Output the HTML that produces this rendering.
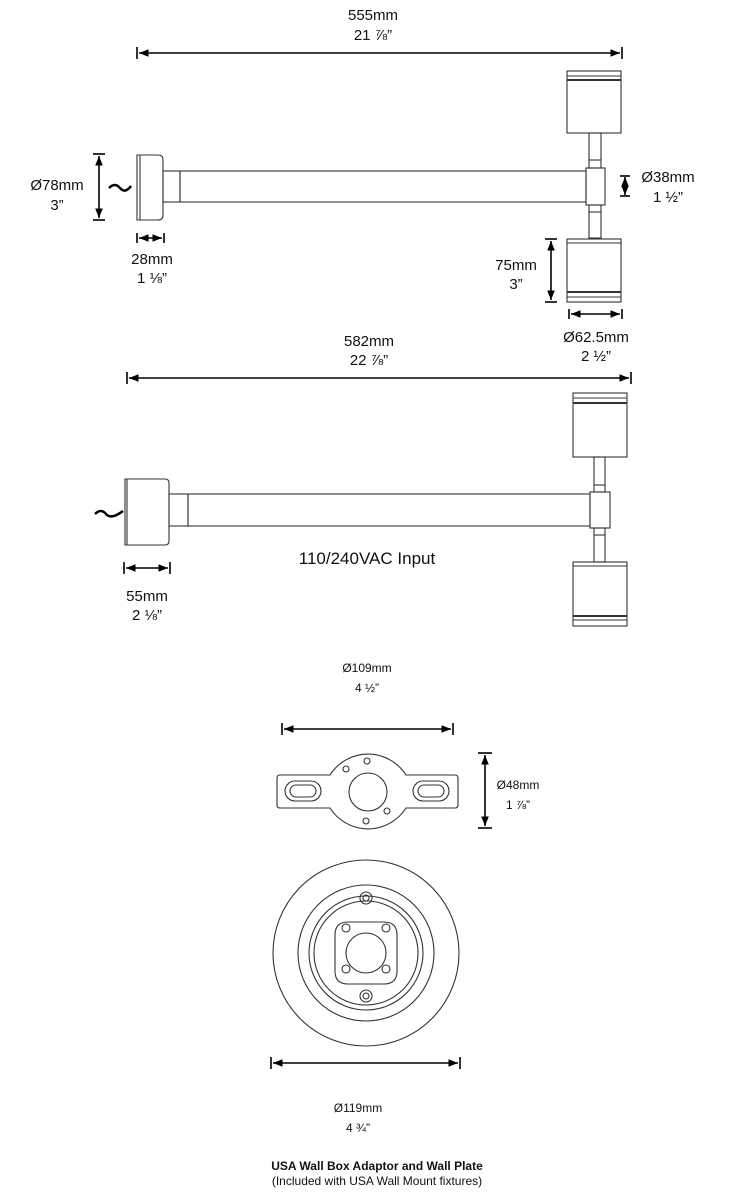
<!DOCTYPE html>
<html><head><meta charset="utf-8"><style>
html,body{margin:0;padding:0;background:#fff}
svg{display:block}
text{font-family:"Liberation Sans",Arial,sans-serif;fill:#111;text-anchor:middle}
</style></head><body>
<svg width="742" height="1198" viewBox="0 0 742 1198" xmlns="http://www.w3.org/2000/svg">
<defs>
<marker id="a" viewBox="0 0 10 10" refX="10" refY="5" markerWidth="6" markerHeight="6" orient="auto-start-reverse"><path d="M0,1 L10,5 L0,9 z" fill="#000"/></marker>
</defs>
<g fill="none" stroke="#333" stroke-width="1.1">
<path d="M137,155 H158 Q163,155 163,160 V215 Q163,220 158,220 H137 Z"/>
<line x1="140" y1="155" x2="140" y2="220"/>
<rect x="163" y="171" width="17" height="31"/>
<rect x="180" y="171" width="406" height="31"/>
<rect x="586" y="168" width="19" height="37"/>
<rect x="589" y="133" width="12" height="35"/>
<line x1="589" y1="160" x2="601" y2="160"/>
<rect x="589" y="205" width="12" height="33"/>
<line x1="589" y1="212" x2="601" y2="212"/>
<rect x="567" y="71" width="54" height="62"/>
<line x1="567" y1="76" x2="621" y2="76"/>
<line x1="567" y1="80" x2="621" y2="80" stroke-width="2"/>
<rect x="567" y="239" width="54" height="63"/>
<line x1="567" y1="243" x2="621" y2="243"/>
<line x1="567" y1="292" x2="621" y2="292" stroke-width="2"/>
<line x1="567" y1="297" x2="621" y2="297"/>
<path d="M125,479 H165 Q169,479 169,483 V541 Q169,545 165,545 H125 Z"/>
<line x1="127" y1="479" x2="127" y2="545"/>
<rect x="169" y="494" width="19" height="32"/>
<rect x="188" y="494" width="402" height="32"/>
<rect x="590" y="492" width="20" height="36"/>
<rect x="594" y="457" width="11" height="35"/>
<line x1="594" y1="485" x2="605" y2="485"/>
<rect x="594" y="528" width="11" height="34"/>
<line x1="594" y1="535" x2="605" y2="535"/>
<rect x="573" y="393" width="54" height="64"/>
<line x1="573" y1="398" x2="627" y2="398"/>
<line x1="573" y1="403" x2="627" y2="403" stroke-width="2"/>
<rect x="573" y="562" width="54" height="64"/>
<line x1="573" y1="566" x2="627" y2="566"/>
<line x1="573" y1="616" x2="627" y2="616" stroke-width="2"/>
<line x1="573" y1="620" x2="627" y2="620"/>
<path d="M280,775 H330 A45,45 0 0 1 406,775 H455 Q458,775 458,778 V805 Q458,808 455,808 H406 A45,45 0 0 1 330,808 H280 Q277,808 277,805 V778 Q277,775 280,775 Z"/>
<circle cx="368" cy="792" r="19"/>
<circle cx="367" cy="761" r="3"/><circle cx="346" cy="769" r="3"/>
<circle cx="387" cy="811" r="3"/><circle cx="366" cy="821" r="3"/>
<rect x="285" y="781" width="36" height="20" rx="10"/>
<rect x="290" y="785" width="26" height="12" rx="6"/>
<rect x="413" y="781" width="36" height="20" rx="10"/>
<rect x="418" y="785" width="26" height="12" rx="6"/>
<circle cx="366" cy="953" r="93"/>
<circle cx="366" cy="953" r="68"/>
<circle cx="366" cy="953" r="57"/>
<circle cx="366" cy="953" r="52"/>
<circle cx="366" cy="953" r="20"/>
<path d="M348,922 H384 Q397,922 397,935 V971 Q397,984 384,984 H348 Q335,984 335,971 V935 Q335,922 348,922 Z"/>
<circle cx="346" cy="928" r="4"/><circle cx="386" cy="928" r="4"/>
<circle cx="346" cy="969" r="4"/><circle cx="386" cy="969" r="4"/>
<circle cx="366" cy="898" r="6"/><circle cx="366" cy="898" r="3"/>
<circle cx="366" cy="996" r="6"/><circle cx="366" cy="996" r="3"/>
</g>
<g fill="none" stroke="#000" stroke-width="2.5">
<path d="M109,188 Q115,182 120,188 T131,186"/>
<path d="M95,514 Q101,508 106,514 T123,511"/>
</g>
<g stroke="#000" stroke-width="1.6" fill="none">
<line x1="139" y1="53" x2="620" y2="53" marker-start="url(#a)" marker-end="url(#a)"/>
<line x1="137" y1="47" x2="137" y2="59"/><line x1="622" y1="47" x2="622" y2="59"/>
<line x1="99" y1="156" x2="99" y2="218" marker-start="url(#a)" marker-end="url(#a)"/>
<line x1="93" y1="154" x2="105" y2="154"/><line x1="93" y1="220" x2="105" y2="220"/>
<line x1="139" y1="238" x2="162" y2="238" marker-start="url(#a)" marker-end="url(#a)"/>
<line x1="137" y1="233" x2="137" y2="243"/><line x1="164" y1="233" x2="164" y2="243"/>
<line x1="625" y1="177" x2="625" y2="195" marker-start="url(#a)" marker-end="url(#a)"/>
<line x1="620" y1="176" x2="630" y2="176"/><line x1="620" y1="196" x2="630" y2="196"/>
<line x1="551" y1="241" x2="551" y2="300" marker-start="url(#a)" marker-end="url(#a)"/>
<line x1="545" y1="239" x2="557" y2="239"/><line x1="545" y1="302" x2="557" y2="302"/>
<line x1="571" y1="314" x2="620" y2="314" marker-start="url(#a)" marker-end="url(#a)"/>
<line x1="569" y1="309" x2="569" y2="319"/><line x1="622" y1="309" x2="622" y2="319"/>
<line x1="129" y1="378" x2="629" y2="378" marker-start="url(#a)" marker-end="url(#a)"/>
<line x1="127" y1="372" x2="127" y2="384"/><line x1="631" y1="372" x2="631" y2="384"/>
<line x1="126" y1="568" x2="168" y2="568" marker-start="url(#a)" marker-end="url(#a)"/>
<line x1="124" y1="562" x2="124" y2="574"/><line x1="170" y1="562" x2="170" y2="574"/>
<line x1="284" y1="729" x2="451" y2="729" marker-start="url(#a)" marker-end="url(#a)"/>
<line x1="282" y1="723" x2="282" y2="735"/><line x1="453" y1="723" x2="453" y2="735"/>
<line x1="485" y1="755" x2="485" y2="826" marker-start="url(#a)" marker-end="url(#a)"/>
<line x1="478" y1="753" x2="492" y2="753"/><line x1="478" y1="828" x2="492" y2="828"/>
<line x1="273" y1="1063" x2="458" y2="1063" marker-start="url(#a)" marker-end="url(#a)"/>
<line x1="271" y1="1057" x2="271" y2="1069"/><line x1="460" y1="1057" x2="460" y2="1069"/>
</g>
<g font-size="15">
<text x="373" y="20">555mm</text><text x="373" y="40">21 ⅞”</text>
<text x="57" y="190">Ø78mm</text><text x="57" y="210">3”</text>
<text x="152" y="264">28mm</text><text x="152" y="283">1 ⅛”</text>
<text x="668" y="182">Ø38mm</text><text x="668" y="202">1 ½”</text>
<text x="516" y="270">75mm</text><text x="516" y="289">3”</text>
<text x="596" y="342">Ø62.5mm</text><text x="596" y="361">2 ½”</text>
<text x="369" y="346">582mm</text><text x="369" y="365">22 ⅞”</text>
<text x="147" y="601">55mm</text><text x="147" y="620">2 ⅛”</text>
</g>
<text x="367" y="564" font-size="17">110/240VAC Input</text>
<g font-size="12">
<text x="367" y="672">Ø109mm</text><text x="367" y="692">4 ½”</text>
<text x="518" y="789">Ø48mm</text><text x="518" y="809">1 ⅞”</text>
<text x="358" y="1112">Ø119mm</text><text x="358" y="1132">4 ¾”</text>
</g>
<text x="377" y="1170" font-size="12" font-weight="bold">USA Wall Box Adaptor and Wall Plate</text>
<text x="377" y="1185" font-size="12">(Included with USA Wall Mount fixtures)</text>
</svg>
</body></html>
